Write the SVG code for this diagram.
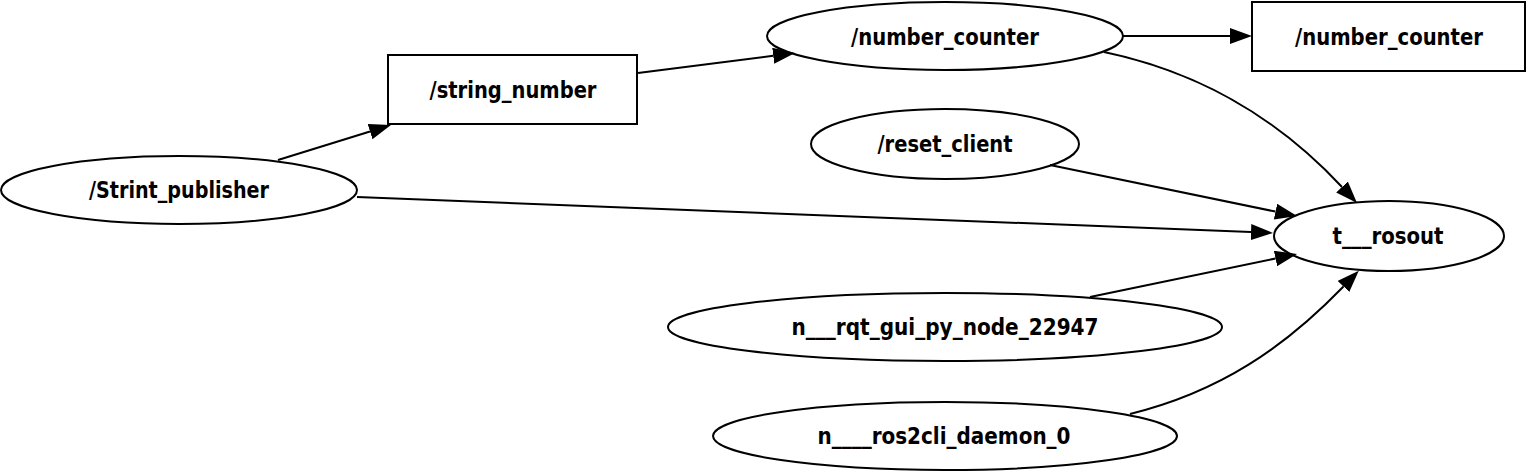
<svg xmlns="http://www.w3.org/2000/svg" width="1527" height="472" viewBox="0 0 1527 472">
<style>
.shape{fill:none;stroke:#000;stroke-width:2}
.edge{fill:none;stroke:#000;stroke-width:2}
.lbl{font-family:"DejaVu Sans","Liberation Sans",sans-serif;font-weight:bold;font-size:23px;fill:#000;text-anchor:middle}
</style>
<defs>
<marker id="arr" markerUnits="userSpaceOnUse" markerWidth="24" markerHeight="18" refX="0" refY="8" orient="auto" viewBox="0 0 24 18">
<path d="M0,0 L22,8 L0,16 z" fill="#000"/>
</marker>
</defs>
<rect width="1527" height="472" fill="#fff"/>
<g id="connectors">
<path class="edge" marker-end="url(#arr)" d="M278,160 L370,131.5"/>
<path class="edge" marker-end="url(#arr)" d="M638,73 L773.2,55.8"/>
<path class="edge" marker-end="url(#arr)" d="M1123,36 L1230,36"/>
<path class="edge" marker-end="url(#arr)" d="M1104,52 C1190,70 1270,110 1342,187"/>
<path class="edge" marker-end="url(#arr)" d="M1050,165 L1275.5,211.6"/>
<path class="edge" marker-end="url(#arr)" d="M357,197 L1251,232.1"/>
<path class="edge" marker-end="url(#arr)" d="M1090,297 L1275.5,258.5"/>
<path class="edge" marker-end="url(#arr)" d="M1130,414 C1220,392 1285,347 1343.5,286.5"/>
</g>
<g id="node_number_counter">
<ellipse class="shape" cx="945" cy="36" rx="178" ry="34"/>
<text class="lbl" x="945" y="45" textLength="188" lengthAdjust="spacingAndGlyphs">/number_counter</text>
</g>
<g id="topic_number_counter">
<rect class="shape" x="1252" y="2" width="273" height="69"/>
<text class="lbl" x="1389" y="45" textLength="188" lengthAdjust="spacingAndGlyphs">/number_counter</text>
</g>
<g id="topic_string_number">
<rect class="shape" x="388" y="55" width="249" height="69"/>
<text class="lbl" x="513" y="98" textLength="167" lengthAdjust="spacingAndGlyphs">/string_number</text>
</g>
<g id="node_strint_publisher">
<ellipse class="shape" cx="179" cy="190" rx="178" ry="34"/>
<text class="lbl" x="179" y="198" textLength="180" lengthAdjust="spacingAndGlyphs">/Strint_publisher</text>
</g>
<g id="node_reset_client">
<ellipse class="shape" cx="945" cy="144" rx="134" ry="35"/>
<text class="lbl" x="945" y="152" textLength="135" lengthAdjust="spacingAndGlyphs">/reset_client</text>
</g>
<g id="topic_rosout">
<ellipse class="shape" cx="1389" cy="236" rx="115" ry="35"/>
<text class="lbl" x="1388" y="244" textLength="111" lengthAdjust="spacingAndGlyphs">t___rosout</text>
</g>
<g id="node_rqt_gui">
<ellipse class="shape" cx="945" cy="327" rx="277" ry="34"/>
<text class="lbl" x="945" y="335" textLength="307" lengthAdjust="spacingAndGlyphs">n___rqt_gui_py_node_22947</text>
</g>
<g id="node_ros2cli_daemon">
<ellipse class="shape" cx="945" cy="436" rx="232" ry="34"/>
<text class="lbl" x="944" y="444" textLength="253" lengthAdjust="spacingAndGlyphs">n____ros2cli_daemon_0</text>
</g>
</svg>
